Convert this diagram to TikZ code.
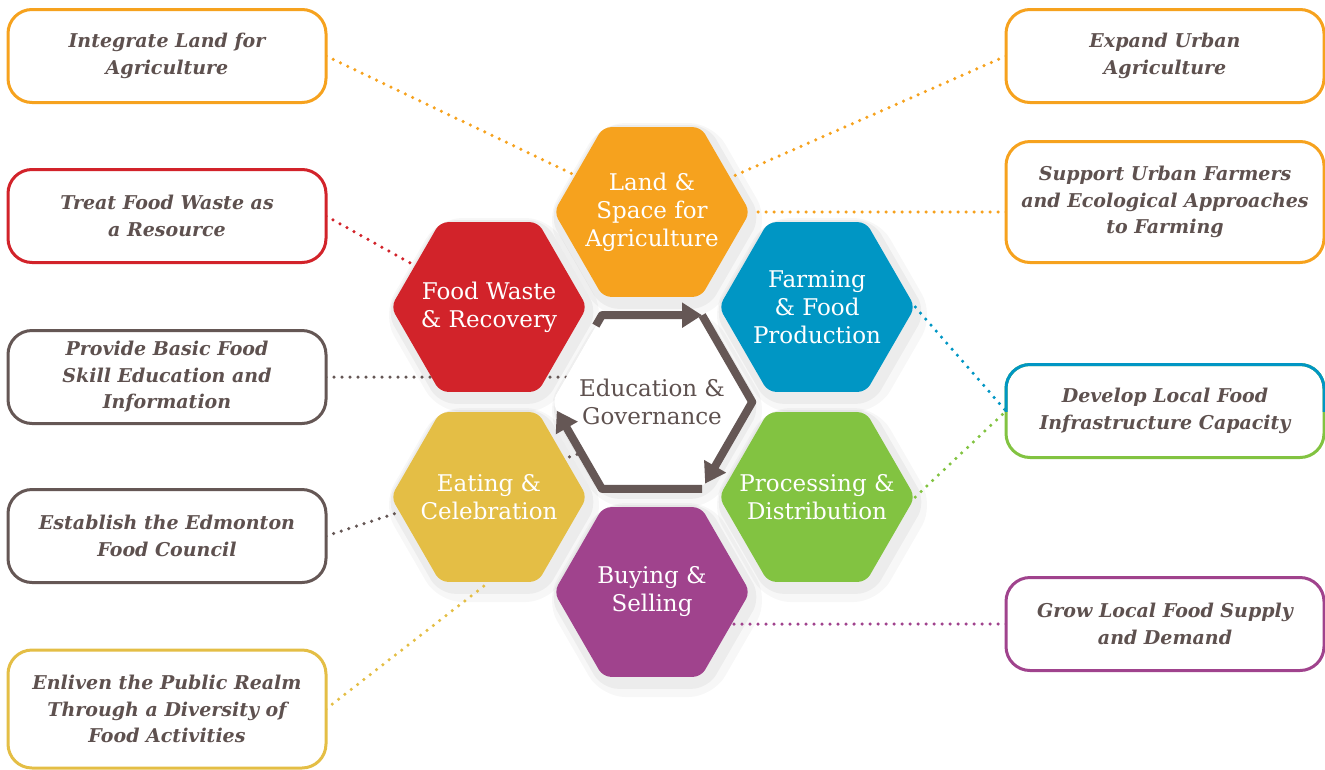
\documentclass[tikz,border=0pt]{standalone}
\usepackage{xcolor}
\usepackage{tikz}
\usepackage{fontspec}
\setmainfont{DejaVu Serif}
\usetikzlibrary{arrows.meta,shapes.geometric,calc,backgrounds}

\definecolor{landorange}{HTML}{F6A21E}
\definecolor{wastered}{HTML}{D2232A}
\definecolor{farmblue}{HTML}{0096C4}
\definecolor{procgreen}{HTML}{82C341}
\definecolor{buypurple}{HTML}{A0438D}
\definecolor{eatyellow}{HTML}{E4BE45}
\definecolor{edubrown}{HTML}{655755}
\definecolor{boxtext}{HTML}{5E514F}

\begin{document}
\begin{tikzpicture}[x=1pt,y=-1pt,
	hexa/.style={regular polygon,regular polygon sides=6,minimum size=196pt,inner sep=-30pt,rounded corners=8pt,text=white,align=center,font=\fontsize{23}{28}\selectfont},
	hexshade/.style={regular polygon,regular polygon sides=6,minimum size=212pt,inner sep=0pt,rounded corners=16pt,fill=black,opacity=0.045},
	goal/.style={draw,rounded corners=24pt,line width=3pt,fill=white,minimum width=318pt,minimum height=93pt,outer sep=0pt,align=center,text=boxtext,font=\fontsize{19}{26.5}\selectfont\bfseries\itshape},
	link/.style={line width=3.5pt,line cap=round,dash pattern=on 0pt off 8pt},
	turn/.style={edubrown,line width=8pt,line join=round,-{Triangle[width=24pt,length=20pt]}}]

\useasboundingbox (0,0) rectangle (1325,769);

\node (land)		at (652,212)	[hexa,fill=landorange] {Land \&\\Space for\\Agriculture};
\node (waste)		at (489,307)	[hexa,fill=wastered] {Food Waste\\\& Recovery};
\node (farming)		at (817,307)	[hexa,fill=farmblue] {Farming\\\& Food\\Production};
\node (education)	at (652,402)	[hexa,fill=white,text=boxtext,minimum size=200pt] {Education \&\\Governance};
\node (eating)		at (489,497)	[hexa,fill=eatyellow] {Eating \&\\Celebration};
\node (processing)	at (817,497)	[hexa,fill=procgreen] {Processing \&\\Distribution};
\node (buying)		at (652,592)	[hexa,fill=buypurple] {Buying \&\\Selling};

\draw [turn] ($(education.corner 2)!0.12!(education.corner 3)$) -- (education.corner 2) -- (education.corner 1);
\draw [turn] (education.corner 1) -- (education.corner 6) -- ($(education.corner 6)!0.94!(education.corner 5)$);
\draw [turn] (education.corner 5) -- (education.corner 4) -- ($(education.corner 4)!0.9!(education.corner 3)$);

\node (intland)		at (167,56)		[goal,draw=landorange] {Integrate Land for\\Agriculture};
\node (treat)		at (167,216)	[goal,draw=wastered] {Treat Food Waste as\\a Resource};
\node (provide)		at (167,377)	[goal,draw=edubrown] {Provide Basic Food\\Skill Education and\\Information};
\node (council)		at (167,536)	[goal,draw=edubrown] {Establish the Edmonton\\Food Council};
\node (enliven)		at (167,709)	[goal,draw=eatyellow,minimum height=118pt] {Enliven the Public Realm\\Through a Diversity of\\Food Activities};
\node (expand)		at (1165,56)	[goal,draw=landorange] {Expand Urban\\Agriculture};
\node (support)		at (1165,202)	[goal,draw=landorange,minimum height=121pt] {Support Urban Farmers\\and Ecological Approaches\\to Farming};
\node (develop)		at (1165,411)	[goal,draw=procgreen] {Develop Local Food\\Infrastructure Capacity};
\node (grow)		at (1165,624)	[goal,draw=buypurple] {Grow Local Food Supply\\and Demand};

\begin{scope}
\clip ($(develop.north west)+(-5,-5)$) rectangle ($(develop.east)+(5,0)$);
\draw [farmblue,line width=3pt,rounded corners=24pt] (develop.south west) rectangle (develop.north east);
\end{scope}

\begin{scope}[on background layer]
\foreach \hx in {land,waste,farming,education,eating,processing,buying}{
	\node [hexshade] at ($(\hx)+(3,5)$) {};
	\node [hexshade,minimum size=224pt,rounded corners=24pt,opacity=0.03] at ($(\hx)+(5,8)$) {};
}
\draw [link,landorange] (intland.east) -- (land);
\draw [link,landorange] (expand.west) -- (land);
\draw [link,landorange] (land -| support.west) -- (land);
\draw [link,wastered] (treat.east) -- (waste);
\draw [link,edubrown] (provide.east) -- (provide.east -| education.center);
\draw [link,edubrown] (council.east) -- ($(education.center)+(0,28)$);
\draw [link,eatyellow] (enliven.east) -- (eating.south);
\draw [link,farmblue] (farming.east) -- (develop.west);
\draw [link,procgreen] (processing.east) -- (develop.west);
\draw [link,buypurple] (grow.west) -- (grow.west -| buying.center);
\end{scope}

\end{tikzpicture}
\end{document}
